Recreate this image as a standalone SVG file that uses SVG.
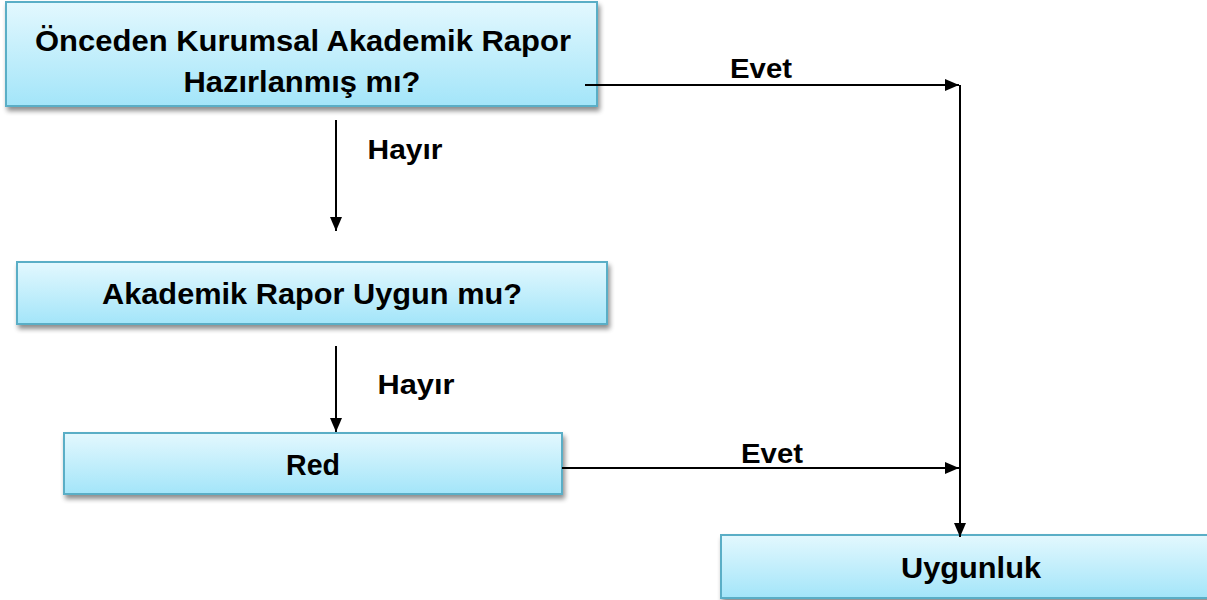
<svg xmlns="http://www.w3.org/2000/svg" width="1207" height="600" viewBox="0 0 1207 600">
<defs>
<linearGradient id="g" x1="0" y1="0" x2="0" y2="1">
<stop offset="0" stop-color="#e3f8fe"/>
<stop offset="1" stop-color="#a3e5f9"/>
</linearGradient>
<filter id="sh" x="-5%" y="-20%" width="110%" height="150%">
<feGaussianBlur in="SourceAlpha" stdDeviation="2.5"/>
<feOffset dx="2" dy="4" result="b"/>
<feComponentTransfer><feFuncA type="linear" slope="0.45"/></feComponentTransfer>
<feMerge><feMergeNode/><feMergeNode in="SourceGraphic"/></feMerge>
</filter>
<marker id="ah" markerWidth="14" markerHeight="12" refX="14" refY="6" orient="auto" markerUnits="userSpaceOnUse">
<path d="M0,0 L14,6 L0,12 Z" fill="#000"/>
</marker>
</defs>
<style>
.box{fill:url(#g);stroke:#5aaec6;stroke-width:2;filter:url(#sh)}
.t{font-family:"Liberation Sans",Arial,sans-serif;font-weight:bold;font-size:30px;fill:#000;text-anchor:middle}
.l{font-family:"Liberation Sans",Arial,sans-serif;font-weight:bold;font-size:28px;fill:#000;text-anchor:middle}
.c{stroke:#000;stroke-width:2;fill:none}
</style>
<g id="n1">
<rect class="box" x="6" y="2" width="591" height="104"/>
<text class="t" x="303" y="51" textLength="536" lengthAdjust="spacingAndGlyphs">Önceden Kurumsal Akademik Rapor</text>
<text class="t" x="302" y="92" textLength="237" lengthAdjust="spacingAndGlyphs">Hazırlanmış mı?</text>
</g>
<g id="n2">
<rect class="box" x="17" y="262" width="590" height="62"/>
<text class="t" x="312" y="304" textLength="420" lengthAdjust="spacingAndGlyphs">Akademik Rapor Uygun mu?</text>
</g>
<g id="n3">
<rect class="box" x="64" y="433" width="498" height="61"/>
<text class="t" x="313" y="475" textLength="54" lengthAdjust="spacingAndGlyphs">Red</text>
</g>
<g id="n4">
<rect class="box" x="721" y="535" width="500" height="63"/>
<text class="t" x="971" y="578" textLength="140" lengthAdjust="spacingAndGlyphs">Uygunluk</text>
</g>
<g id="connectors">
<line class="c" x1="585" y1="85" x2="959" y2="85" marker-end="url(#ah)"/>
<line class="c" x1="960" y1="85" x2="960" y2="537" marker-end="url(#ah)"/>
<line class="c" x1="562" y1="468" x2="959" y2="468" marker-end="url(#ah)"/>
<line class="c" x1="336" y1="120" x2="336" y2="231" marker-end="url(#ah)"/>
<line class="c" x1="336" y1="346" x2="336" y2="432" marker-end="url(#ah)"/>
<text class="l" x="761" y="78" textLength="62" lengthAdjust="spacingAndGlyphs">Evet</text>
<text class="l" x="772" y="463" textLength="62" lengthAdjust="spacingAndGlyphs">Evet</text>
<text class="l" x="405" y="159" textLength="75" lengthAdjust="spacingAndGlyphs">Hayır</text>
<text class="l" x="416" y="394" textLength="77" lengthAdjust="spacingAndGlyphs">Hayır</text>
</g>
</svg>
